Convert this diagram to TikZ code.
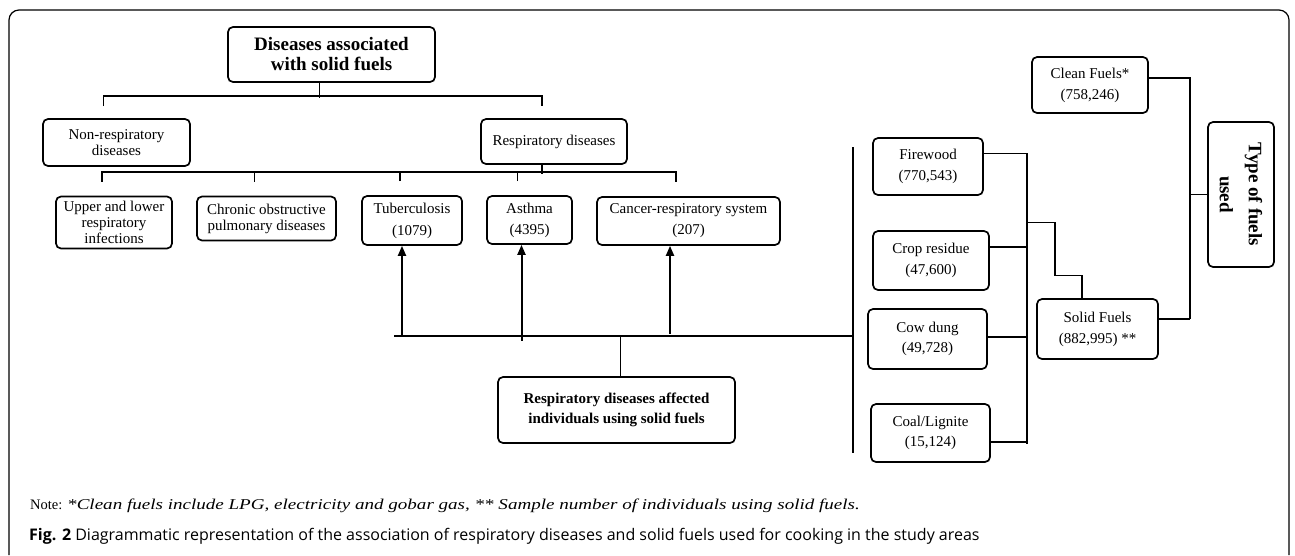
\documentclass[tikz,border=0pt]{standalone}
\usepackage{fontspec}
\setmainfont{Liberation Serif}
\newfontfamily\capfont{Open Sans}
\usetikzlibrary{arrows.meta}
\begin{document}
\begin{tikzpicture}[x=1pt,y=-1pt,
  box/.style={draw,rounded corners=5pt,line width=1.7pt,align=center,inner sep=0pt,font=\fontsize{15}{16}\selectfont},
  boldbox/.style={box,font=\fontsize{15}{20}\bfseries\selectfont},
  link/.style={line width=1.5pt},
  up/.style={line width=2pt,-{Triangle[length=10pt,width=8pt]}}]
\useasboundingbox (0,0) rectangle (1295,555);
\draw[line width=1.2pt,rounded corners=10pt] (9,555) -- (9,10) -- (1289,10) -- (1289,555);
\node[boldbox,font=\fontsize{19}{20}\bfseries\selectfont,minimum width=207pt,minimum height=55pt] (title) at (331.5,54.5) {Diseases associated\\with solid fuels};
\node[box,minimum width=147pt,minimum height=47pt] (nonresp) at (116.5,142.5) {Non-respiratory\\diseases};
\node[box,minimum width=146pt,minimum height=45pt] (resp) at (554,141.5) {Respiratory diseases};
\node[box,minimum width=116pt,minimum height=52pt] (upper) at (114,222.5) {Upper and lower\\respiratory\\infections};
\node[box,minimum width=139pt,minimum height=44pt] (copd) at (266.5,218.5) {Chronic obstructive\\pulmonary diseases};
\node[box,minimum width=100pt,minimum height=49pt] (tb) at (412,220.5) {Tuberculosis\\[6pt](1079)};
\node[box,minimum width=85pt,minimum height=48pt] (asthma) at (529.5,220) {Asthma\\[5pt](4395)};
\node[box,minimum width=183pt,minimum height=48pt] (cancer) at (688.5,221) {Cancer-respiratory system\\[5pt](207)};
\node[boldbox,minimum width=237pt,minimum height=66pt] (affected) at (616.5,410) {Respiratory diseases affected\\individuals using solid fuels};
\node[box,minimum width=110pt,minimum height=57pt] (firewood) at (928,166.5) {Firewood\\[5pt](770,543)};
\node[box,minimum width=116pt,minimum height=59pt] (crop) at (931,260.5) {Crop residue\\[5pt](47,600)};
\node[box,minimum width=119pt,minimum height=60pt] (cow) at (927.5,339) {Cow dung\\[4pt](49,728)};
\node[box,minimum width=119pt,minimum height=58pt] (coal) at (930.5,433) {Coal/Lignite\\[4pt](15,124)};
\node[box,minimum width=121pt,minimum height=60pt] (solid) at (1097.5,329) {Solid Fuels\\[5pt](882,995) **};
\node[box,minimum width=116pt,minimum height=56pt] (clean) at (1090,85) {Clean Fuels*\\[5pt](758,246)};
\node[boldbox,font=\fontsize{19}{29}\bfseries\selectfont,rotate=-90,minimum width=145pt,minimum height=66pt] (type) at (1241,194.5) {Type of fuels\\used};
\draw[link] ([xshift=-12pt]title.south) -- ++(0,15);
\draw[link] ([xshift=-13pt,yshift=12pt]nonresp.north) |- ([xshift=-12pt,yshift=22pt]resp.north) -- ++(0,10);
\draw[link] ([xshift=-12pt]resp.south) -- ++(0,9);
\draw[link,line width=2pt] ([xshift=-12pt,yshift=14pt]upper.north) |- ([xshift=-12.5pt,yshift=24pt]cancer.north) -- ++(0,10);
\foreach \n in {copd,tb,asthma}
  \draw[link] ([xshift=-12pt,yshift=14pt]\n.north) -- ++(0,-10);
\coordinate (busL) at (394,336);
\coordinate (busR) at (853,336);
\draw[line width=2.2pt] (busL) -- (busR);
\draw[link] (853,147) coordinate (vtop) -- (853,453) coordinate (vbot);
\draw[up] ([xshift=-10pt]tb.south) ++(0,91) -- ([xshift=-10pt]tb.south);
\draw[up] ([xshift=-8pt]asthma.south) ++(0,96) -- ([xshift=-8pt]asthma.south);
\draw[up] ([xshift=-18.5pt]cancer.south) ++(0,88) -- ([xshift=-18.5pt]cancer.south);
\draw[line width=0.8pt] ([xshift=3.5pt]affected.north) -- ++(0,-39);
\draw[link] ([yshift=13pt]firewood.east) -- ++(43,0) coordinate (f1) -- ++(0,290);
\foreach \n/\s/\l in {crop/13.5/37,cow/2/39,coal/-9/36}
  \draw[link] ([yshift=\s pt]\n.east) -- ++(\l,0);
\draw[link] (f1) ++(0,69) -- ++(28,0) -- ++(0,53) -| ([xshift=-15.5pt]solid.north);
\draw[link] ([yshift=7pt]clean.east) -- ++(41,0) -- ++(0,241);
\draw[link] ([yshift=10pt]solid.east) -- ++(31,0);
\draw[link] ([xshift=2pt]type.south) -- ++(-20,0);
\node[anchor=base west,inner sep=0pt,font=\fontsize{14.5}{16}\selectfont] (note) at (30,509) {Note: {\fontsize{15}{16}\itshape\addfontfeature{FakeStretch=1.27}*Clean fuels include LPG, electricity and gobar gas, ** Sample number of individuals using solid fuels.}};
\node[anchor=base west,inner sep=0pt,font=\capfont\fontsize{16}{18}\selectfont] (caption) at (29,540) {\textbf{Fig. 2} Diagrammatic representation of the association of respiratory diseases and solid fuels used for cooking in the study areas};
\end{tikzpicture}
\end{document}
